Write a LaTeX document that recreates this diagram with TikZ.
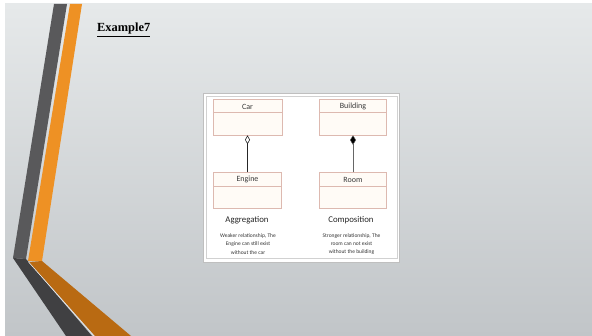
\documentclass[tikz,border=0pt]{standalone}
\usepackage{fontspec}
\setmainfont{Liberation Serif}
\newfontfamily\umlfont{Carlito}
\usetikzlibrary{arrows.meta}
\definecolor{bgtop}{HTML}{E6E9EA}
\definecolor{bgbot}{HTML}{C1C5C8}
\definecolor{stripedark}{HTML}{59595B}
\definecolor{stripedeep}{HTML}{404042}
\definecolor{stripeorange}{HTML}{EE9124}
\definecolor{stripeburnt}{HTML}{B96A12}
\definecolor{classline}{HTML}{DDB9B0}
\definecolor{classfill}{HTML}{FFFBF6}
\definecolor{umltext}{HTML}{3A3A3A}
\tikzset{
  umlclass/.style={draw=classline, fill=classfill, line width=0.5pt, inner sep=0pt},
  classname/.style={font=\umlfont\fontsize{8}{9}\selectfont, text=umltext},
  kindlabel/.style={font=\umlfont\fontsize{8.8}{10}\selectfont, text=black!85},
  notetext/.style={font=\umlfont\fontsize{5.5}{8.3}\selectfont, text=black!80, align=center},
  assoc/.style={line width=0.7pt, draw=black!85},
  compline/.style={line width=0.4pt, draw=black!60},
}
\begin{document}
\begin{tikzpicture}[x=1pt, y=-1pt]
\useasboundingbox (0,0) rectangle (592,336);
% slide background with white edge strips on top and left
\fill[white] (0,0) rectangle (592,336);
\shade[top color=bgtop, bottom color=bgbot] (5,4) rectangle (592,336);
% decorative stripes on the left
\fill[stripedark] (54,4) -- (67,4) -- (26,259) -- (13,258) -- cycle;
\fill[stripeorange] (70,4) -- (82,4) -- (42,261) -- (28,261) -- cycle;
\fill[stripedeep] (13,258) -- (26,259) -- (92,336) -- (66,336) -- cycle;
\fill[stripeburnt] (29,262) -- (42,261) -- (131,336) -- (95,336) -- cycle;
\draw[white!85!gray, line width=0.5pt] (28.5,262) -- (94,336);
% title
\node[anchor=base west, inner sep=0pt, font=\bfseries\fontsize{12.4}{14}\selectfont] (title) at (97,31.7) {\underline{Example7}};
% picture frame
\node[draw=black!25, fill=white, line width=0.5pt, minimum width=196pt, minimum height=169pt, inner sep=0pt] (frame) at (301,177.5) {};
\draw[black!18, line width=0.5pt] (206,96) rectangle (397,258.5);
% classes
\node[umlclass, minimum width=68.7pt, minimum height=35.7pt] (car) at (247.5,117.2) {};
\node[umlclass, minimum width=67.4pt, minimum height=35.7pt] (building) at (353,117.2) {};
\node[umlclass, minimum width=68.3pt, minimum height=35.6pt] (engine) at (247.5,190.5) {};
\node[umlclass, minimum width=67.4pt, minimum height=35.6pt] (room) at (353,190.5) {};
\foreach \c in {car,building,engine,room}
  \draw[classline, line width=0.5pt] ([yshift=-13.5pt]\c.north west) -- ([yshift=-13.5pt]\c.north east);
\node[classname] (carname) at (247.5,106.7) {Car};
\node[classname] (buildingname) at (353,106.7) {Building};
\node[classname] (enginename) at (247.5,179.6) {Engine};
\node[classname] (roomname) at (353,179.6) {Room};
% relationships
\draw[assoc, -{Diamond[open, length=9pt, width=5pt, line width=0.6pt]}] (engine.north) -- (car.south);
\draw[compline, -{Diamond[length=9.5pt, width=6pt, fill=black]}] (room.north) -- (building.south);
% captions
\node[kindlabel] (agg) at (247,220) {Aggregation};
\node[kindlabel] (comp) at (351,220) {Composition};
\node[notetext] (aggnote) at (248,244) {Weaker relationship, The\\Engine can still exist\\without the car};
\node[notetext] (compnote) at (351.5,244) {Stronger relationship, The\\room can not exist\\without the building};
\end{tikzpicture}
\end{document}
